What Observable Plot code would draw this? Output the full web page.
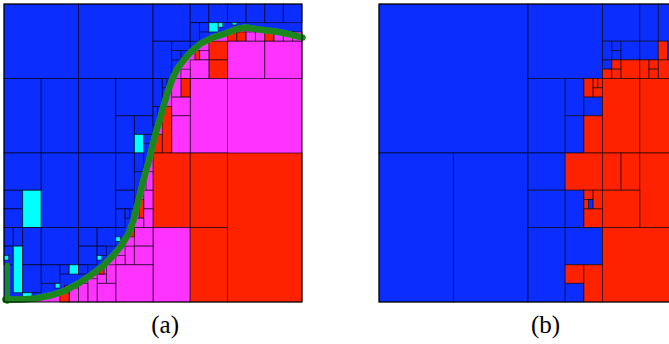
<!DOCTYPE html>
<html><head><meta charset="utf-8">
<script src="https://cdn.jsdelivr.net/npm/d3@7"></script>
<script src="https://cdn.jsdelivr.net/npm/@observablehq/plot@0.6"></script>
<style>body{margin:0;background:#fff;overflow:hidden} #chart svg{display:block}</style>
</head><body><div id="chart"></div>
<script>
// Cells of panel (a): "x0 x1 y0 y1 class", in 1/128 of the panel side (y grows downward)
const cellsA = [
"0 32 0 32 b","32 64 0 32 b","0 16 32 64 b","16 32 32 64 b","32 48 32 64 b",
"48 64 32 48 b","48 56 48 64 b","56 64 48 56 b","56 60 56 64 c","60 64 56 60 b",
"64 80 0 16 b","80 88 0 8 b","88 96 0 8 b","96 104 0 8 b","104 112 0 8 b","112 120 0 8 b","120 128 0 8 b",
"80 84 8 16 b","84 88 8 12 b","88 92 8 12 c","92 94 8 10 c","98 100 8 9 c",
"64 72 16 32 b","72 80 16 20 b","72 76 20 24 b","64 68 32 44 b","68 70 32 36 b","64 66 44 52 b",
"0 16 64 80 b","0 8 80 88 b","0 8 88 96 b","8 16 80 96 c","16 32 64 96 b","32 48 64 96 b",
"48 56 64 80 b","56 60 64 72 b","48 56 80 88 b","48 52 88 96 b","52 54 88 92 b",
"0 4 96 104 b","0 4 104 112 b","4 8 96 104 b","4 8 104 124 c","8 16 96 112 b","16 32 96 112 b",
"32 40 96 104 b","40 48 96 104 b","32 40 104 112 b","40 44 104 108 b",
"8 16 112 124 b","16 24 112 120 b","24 28 112 116 b","28 32 112 116 c","32 36 112 116 b","22 24 120 122 c",
"8 12 124 126 c","0 2 108 110 c","40 42 108 110 c","48 50 100 102 c",
"96 100 12 16 r","100 104 12 16 r","104 108 12 16 m","108 112 12 16 m","112 116 12 16 r","116 120 12 16 m","120 124 12 16 m","124 128 12 16 m",
"96 112 16 32 m","112 128 16 32 m","88 96 16 24 r","88 96 24 32 r","84 88 20 24 m","82 84 20 24 r","80 88 24 32 m","76 80 28 32 m",
"80 96 32 64 m","76 80 32 40 r","72 76 32 40 m","72 80 40 48 m","72 80 48 64 m","68 72 44 64 r","64 68 56 64 r",
"64 80 64 96 r","80 96 64 96 r","96 128 64 128 r","64 80 96 128 m","80 96 96 128 r",
"61 64 72 80 m","60 64 80 88 m","58 60 84 92 r","60 64 88 96 m","56 60 92 96 m","56 64 96 104 m","54 56 96 100 r",
"52 56 104 112 m","48 52 108 112 m","56 64 104 112 m","48 64 112 128 m","44 48 112 120 m","40 44 116 120 m","41 43 113 116 r",
"40 48 120 128 m","36 40 118 128 m","32 36 120 128 m","28 32 122 128 m","24 28 124 128 r","26 28 121 124 r"
];
// Cells of panel (b)
const cellsB = [
"0 64 0 64 b","0 32 64 128 b","32 64 64 128 b",
"64 96 0 32 b","96 112 0 16 b","112 120 0 16 b","120 128 0 16 b",
"96 100 16 24 b","96 100 24 28 b","96 100 28 32 r",
"100 104 16 20 b","100 104 20 24 b","100 104 24 28 r","100 104 28 32 r",
"104 112 16 24 b","104 112 24 32 r",
"112 120 16 24 b","112 116 24 32 r","116 120 24 28 r","116 120 28 32 r",
"120 124 16 24 r","124 128 16 24 b","120 128 24 32 r",
"64 80 32 64 b","80 88 32 48 b","80 88 48 64 b",
"88 92 32 40 r","92 94 32 36 r","94 96 32 36 r","92 96 36 40 r","88 96 40 48 b","88 96 48 64 r",
"96 112 32 64 r","112 128 32 64 r",
"64 80 64 80 b","80 96 64 80 r","96 104 64 80 r","104 112 64 80 r","112 128 64 96 r",
"64 80 80 96 b","80 88 80 96 b","88 92 80 84 r","88 90 84 88 r","90 92 84 88 b","92 96 80 88 r","88 96 88 96 r","96 112 80 96 r",
"64 80 96 128 b","80 96 96 112 b","80 88 112 120 r","80 88 120 128 b","88 96 112 128 r","96 128 96 128 r"
];
// boundary band of fine cells in panel (a)
const bandX = [128,122.9,116.4,109.1,103.5,99.2,94.9,89.3,84.2,79.9,76.9,74.3,72.2,70.4,68.7,67.0,65.3,63.6,62.3,60.6,58.8,57.1,55.4,53.3,50.3,46.4,42.1,36.9,31.8,26.2,19.8,13.3,6.9,0.4];
const bandY = [14.2,12.9,11.6,10.7,9.9,10.7,12.5,14.2,16.8,20.6,24.1,27.5,31.8,36.9,42.5,48.5,54.1,60.6,66.2,72.2,79.0,86.3,92.8,98.4,103.5,108.2,112.5,116.4,119.8,122.9,125.0,126.3,126.7,126.7];
const edgeBandX = [1.2, 1.2];
const edgeBandY = [112, 127.6];
const panelLabels = ["(a)", "(b)"];
const labelX = [69, 232.4];
const labelY = [137.6, 137.6];
const offsetB = 161.07;
const colorKeys = ["b","c","r","m","g"];
const colorVals = ["#0b2dfe","#00ffff","#ff2200","#ff33ff","#1cc41c"];

function parse(list, dx) {
  return list.map(s => { const [x0,x1,y0,y1,c] = s.split(" "); return {x1:+x0+dx, x2:+x1+dx, y1:+y0, y2:+y1, c}; });
}
const A = parse(cellsA, 0), B = parse(cellsB, offsetB);
const band = bandX.map((x,i) => ({x, y: bandY[i], c: "m"}));
const bandAsc = band.slice().reverse();
const edgeBand = edgeBandX.map((x,i) => ({x, y: edgeBandY[i]}));
const labels = panelLabels.map((t,i) => ({t, x: labelX[i], y: labelY[i]}));
const S = 128/298;
const cellStyle = {x1:"x1", x2:"x2", y1:"y1", y2:"y2", fill:"c", stroke:"#000", strokeOpacity:0.6, strokeWidth:1};

const plot = Plot.plot({
  width: 669, height: 344, margin: 0,
  x: {domain: [-4*S, 665*S], range: [0, 669], axis: null},
  y: {domain: [-4*S, 340*S], range: [0, 344], axis: null},
  color: {domain: colorKeys, range: colorVals},
  style: {overflow: "hidden", background: "#fff"},
  marks: [
    Plot.rect([{x1:0,x2:128,y1:0,y2:128,c:"b"}], {x1:"x1",x2:"x2",y1:"y1",y2:"y2",fill:"c"}),
    Plot.areaY(bandAsc, {x:"x", y1:"y", y2:128, fill:"c"}),
    Plot.rect(A, cellStyle),
    Plot.line(band, {x:"x", y:"y", stroke:"#2ee02e", strokeWidth:6.5, strokeLinejoin:"round"}),
    Plot.line(band, {x:"x", y:"y", stroke:"#000", strokeWidth:6.5, strokeDasharray:"0.7,1.8", strokeOpacity:0.4}),
    Plot.line(edgeBand, {x:"x", y:"y", stroke:"#2ee02e", strokeWidth:5}),
    Plot.line(edgeBand, {x:"x", y:"y", stroke:"#000", strokeWidth:5, strokeDasharray:"0.7,1.8", strokeOpacity:0.4}),
    Plot.rect(B, cellStyle),
    Plot.rect([{x1:0,x2:128,y1:0,y2:128},{x1:offsetB,x2:offsetB+128,y1:0,y2:128}], {x1:"x1",x2:"x2",y1:"y1",y2:"y2",fill:"none",stroke:"#000",strokeWidth:1}),
    Plot.text(labels, {x:"x", y:"y", text:"t", fontSize:25, fontFamily:"Liberation Serif, DejaVu Serif, serif", fill:"#000"})
  ]
});
document.getElementById("chart").appendChild(plot);
</script>
</body></html>
